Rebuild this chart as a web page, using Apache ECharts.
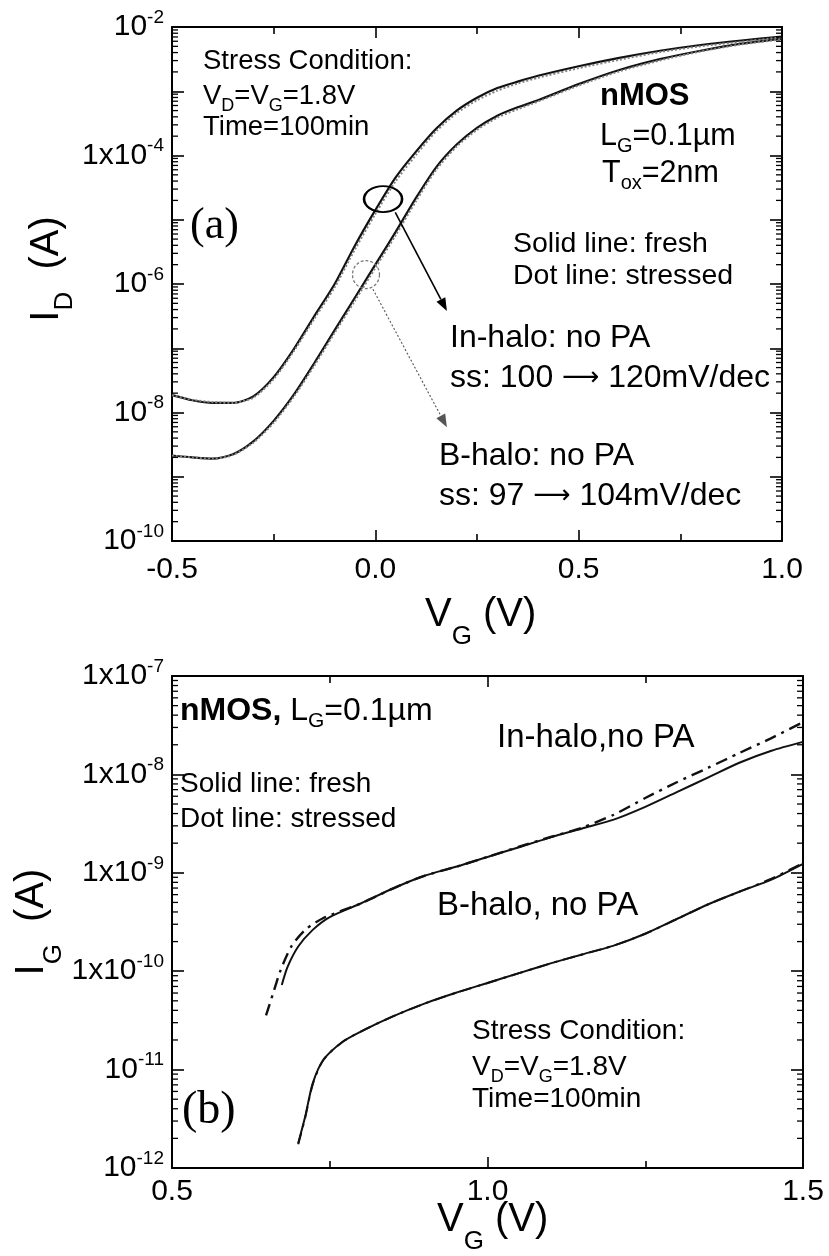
<!DOCTYPE html>
<html><head><meta charset="utf-8">
<script src="https://cdn.jsdelivr.net/npm/echarts@6/dist/echarts.min.js"></script>
<style>html,body{margin:0;padding:0;background:#fff}#c{width:829px;height:1256px}</style>
</head><body><div id="c"></div>
<script>
// ---------- (a) I_D – V_G ----------
const topVG = [-0.5,-0.45,-0.4,-0.35,-0.3,-0.25,-0.2,-0.15,-0.1,-0.05,0.0,0.05,0.1,0.15,0.2,0.25,0.3,0.35,0.4,0.5,0.6,0.7,0.8,0.9,1.0];
const inHaloFresh = [1.86e-8,1.55e-8,1.41e-8,1.41e-8,1.78e-8,3.55e-8,9.8e-8,3.16e-7,1.0e-6,3.98e-6,1.41e-5,4.57e-5,1.15e-4,2.63e-4,5.0e-4,7.94e-4,1.12e-3,1.41e-3,1.74e-3,2.45e-3,3.31e-3,4.27e-3,5.25e-3,6.17e-3,7.08e-3];
const inHaloStressed = [1.86e-8,1.58e-8,1.45e-8,1.41e-8,1.70e-8,3.31e-8,9.1e-8,2.88e-7,8.9e-7,3.47e-6,1.23e-5,3.98e-5,1.02e-4,2.40e-4,4.57e-4,7.24e-4,1.02e-3,1.32e-3,1.62e-3,2.29e-3,3.09e-3,4.07e-3,5.01e-3,5.89e-3,6.92e-3];
const bHaloFresh = [2.14e-9,2.0e-9,1.91e-9,2.24e-9,3.55e-9,7.41e-9,1.91e-8,5.89e-8,1.91e-7,6.17e-7,2.0e-6,6.46e-6,2.19e-5,6.61e-5,1.48e-4,2.69e-4,4.17e-4,5.62e-4,7.24e-4,1.29e-3,2.14e-3,3.16e-3,4.27e-3,5.50e-3,6.61e-3];
const bHaloStressed = [2.14e-9,2.0e-9,1.91e-9,2.19e-9,3.39e-9,6.92e-9,1.78e-8,5.37e-8,1.74e-7,5.5e-7,1.78e-6,5.75e-6,1.95e-5,6.03e-5,1.38e-4,2.51e-4,3.89e-4,5.25e-4,6.92e-4,1.23e-3,2.04e-3,3.02e-3,4.17e-3,5.37e-3,6.46e-3];
const topX = {min:-0.5, max:1.0, interval:0.5};
const topY = {min:1e-10, max:1e-2};
const topYLabelExps = [-2,-4,-6,-8,-10];
const topYLabelBase = ['10','1x10','10','10','10'];

// ---------- (b) I_G – V_G ----------
const gInFreshVG = [0.674,0.683,0.70,0.723,0.75,0.80,0.85,0.90,0.95,1.0,1.05,1.10,1.15,1.20,1.25,1.30,1.35,1.40,1.45,1.50];
const gInFresh = [7.24e-11,1.10e-10,1.78e-10,2.63e-10,3.55e-10,4.90e-10,6.92e-10,9.33e-10,1.15e-9,1.45e-9,1.82e-9,2.29e-9,2.82e-9,3.47e-9,4.68e-9,6.61e-9,9.33e-9,1.32e-8,1.74e-8,2.14e-8];
const gInStressedVG = [0.649,0.66,0.672,0.689,0.711,0.74,0.80,0.85,0.90,0.95,1.0,1.05,1.10,1.15,1.20,1.25,1.30,1.35,1.40,1.45,1.50];
const gInStressed = [3.55e-11,5.89e-11,1.02e-10,1.78e-10,2.63e-10,3.47e-10,4.90e-10,6.92e-10,9.33e-10,1.15e-9,1.45e-9,1.84e-9,2.31e-9,2.88e-9,3.89e-9,5.75e-9,8.32e-9,1.17e-8,1.66e-8,2.34e-8,3.39e-8];
const gBVG = [0.70,0.711,0.723,0.74,0.77,0.80,0.85,0.90,0.95,1.0,1.05,1.10,1.15,1.20,1.25,1.30,1.35,1.40,1.45,1.50];
const gBFresh = [1.78e-12,3.31e-12,7.24e-12,1.26e-11,1.91e-11,2.45e-11,3.47e-11,4.68e-11,6.03e-11,7.59e-11,9.55e-11,1.20e-10,1.48e-10,1.82e-10,2.40e-10,3.39e-10,4.79e-10,6.46e-10,8.51e-10,1.23e-9];
const gBStressed = [1.74e-12,3.24e-12,7.08e-12,1.26e-11,1.91e-11,2.45e-11,3.47e-11,4.68e-11,6.03e-11,7.59e-11,9.55e-11,1.20e-10,1.48e-10,1.82e-10,2.40e-10,3.39e-10,4.79e-10,6.46e-10,8.71e-10,1.26e-9];
const botX = {min:0.5, max:1.5, interval:0.5};
const botY = {min:1e-12, max:1e-7};
const botYLabelExps = [-7,-8,-9,-10,-11,-12];
const botYLabelBase = ['1x10','1x10','1x10','1x10','10','10'];

// annotation anchors (data space) for panel (a)
const ellipseSolid = [0.019, 2.1e-5];
const arrowSolid = [[0.049, 1.3e-5],[0.176, 3.8e-7]];
const ellipseDot = [-0.023, 1.4e-6];
const arrowDot = [[-0.006, 8.3e-7],[0.176, 5.9e-9]];

const FONT = '"Liberation Sans", Arial, Helvetica, sans-serif';
const SERIF = '"Liberation Serif", "Times New Roman", serif';

function pairs(xs, ys){ return xs.map((x,i)=>[x, ys[i]]); }
function yFmt(exps, bases){
  return function(v){
    const e = Math.round(Math.log10(v));
    const i = exps.indexOf(e);
    if (i < 0) return '';
    return '{n|' + bases[i] + '}{s|' + e + '}';
  };
}
function minorLogTicks(minE, maxE){
  const a = [];
  for (let e = minE; e < maxE; e++) for (let m = 2; m <= 9; m++) a.push(m * Math.pow(10, e));
  return a;
}
const axLine = {show:true, onZero:false, lineStyle:{color:'#000', width:2}};
const yRich = {
  n:{fontSize:30, lineHeight:38, fontFamily:FONT, color:'#000'},
  s:{fontSize:19, lineHeight:19, verticalAlign:'top', fontFamily:FONT, color:'#000'}
};
function xAxisDef(grid, pos, ext, showLabel, margin){
  return {type:'value', gridIndex:grid, position:pos, min:ext.min, max:ext.max, interval:ext.interval,
    axisLine:axLine, splitLine:{show:false},
    axisTick:{show:true, inside:true, length:11, lineStyle:{color:'#000', width:1.6}},
    minorTick:{show:true, splitNumber:2, length:7, lineStyle:{color:'#000', width:1.6}},
    axisLabel:{show:showLabel, margin:margin, fontSize:30, fontFamily:FONT, color:'#000', formatter:v=>v.toFixed(1)}};
}
function yAxisDef(grid, pos, ext, split, showLabel, fmt){
  return {type:'log', logBase:10, gridIndex:grid, position:pos, min:ext.min, max:ext.max, splitNumber:split,
    axisLine:axLine, splitLine:{show:false}, minorTick:{show:false},
    axisTick:{show:true, inside:true, length:12, lineStyle:{color:'#000', width:1.6}},
    axisLabel:{show:showLabel, margin:8, formatter:fmt, rich:yRich}};
}
function tickSeries(xi, yi, xext, values){
  return {type:'custom', xAxisIndex:xi, yAxisIndex:yi, silent:true, z:6,
    data: values.map(v=>[xext.min, v]),
    renderItem:(params, api)=>{
      const p = api.coord([api.value(0), api.value(1)]);
      const q = api.coord([xext.max, api.value(1)]);
      const st = {stroke:'#000', lineWidth:1.3};
      return {type:'group', children:[
        {type:'line', shape:{x1:p[0], y1:p[1], x2:p[0]+6, y2:p[1]}, style:st},
        {type:'line', shape:{x1:q[0]-6, y1:q[1], x2:q[0], y2:q[1]}, style:st}
      ]};
    }};
}
function line(xi, yi, data, color, type, width, z){
  return {type:'line', xAxisIndex:xi, yAxisIndex:yi, data:data, showSymbol:false, smooth:0.25, z:z,
    lineStyle:{color:color, type:type, width:width}};
}

// text helpers
function richFor(size){
  const lh = Math.round(size + 9);
  const ss = Math.round(size * 0.66);
  return {
    n:{fontSize:size, lineHeight:lh, fontFamily:FONT, fill:'#000', color:'#000'},
    b:{fontSize:size, lineHeight:lh, fontFamily:FONT, fontWeight:'bold', fill:'#000', color:'#000'},
    s:{fontSize:ss, lineHeight:ss, verticalAlign:'bottom', fontFamily:FONT, fill:'#000', color:'#000'},
    a:{fontSize:Math.round(size*0.8), lineHeight:lh, fontFamily:'"DejaVu Sans", sans-serif', fill:'#000', color:'#000'}
  };
}
function R(x, base, text, size){
  size = size || 27.5;
  return {type:'text', x:x, y:base - size*0.37, z:50, style:{text:text, rich:richFor(size), fill:'#000',
    font:size+'px '+FONT, align:'left', verticalAlign:'middle', textAlign:'left', textVerticalAlign:'middle'}};
}
function T(x, base, text, size){ return R(x, base, '{n|' + text + '}', size); }
function title(x, y, text, rot, align, L){
  return {type:'text', x:x, y:y, rotation:rot, z:50, style:{text:text, fill:'#000', font:'40px '+FONT,
    align:align, verticalAlign:'middle', textAlign:align, textVerticalAlign:'middle',
    rich:{t:{fontSize:40, lineHeight:L, fontFamily:FONT, fill:'#000'},
          s:{fontSize:26, lineHeight:26, verticalAlign:'bottom', fontFamily:FONT, fill:'#000'}}}};
}

const texts = [
  // panel (a)
  T(203, 72, 'Stress Condition:', 27.5),
  R(203, 107, '{n|V}{s|D}{n|=V}{s|G}{n|=1.8V}', 27.5),
  T(203, 138, 'Time=100min', 27.5),
  {type:'text', x:190, y:226, z:50, style:{text:'(a)', fill:'#000', font:'44px '+SERIF, align:'left', verticalAlign:'middle', textAlign:'left', textVerticalAlign:'middle'}},
  R(600, 108, '{b|nMOS}', 31),
  R(600, 148, '{n|L}{s|G}{n|=0.1\u00b5m}', 30.5),
  R(602, 185, '{n|T}{s|ox}{n|=2nm}', 30.5),
  T(513, 255, 'Solid line: fresh', 28.5),
  T(513, 287, 'Dot line: stressed', 28.5),
  T(450, 350, 'In-halo: no PA', 32),
  R(450, 390, '{n|ss: 100 }{a|\u27f6}{n| 120mV/dec}', 32),
  T(439, 468, 'B-halo: no PA', 32),
  R(439, 508, '{n|ss: 97 }{a|\u27f6}{n| 104mV/dec}', 32),
  // panel (b)
  R(180, 723, '{b|nMOS,}{n| L}{s|G}{n|=0.1\u00b5m}', 32),
  T(180, 795, 'Solid line: fresh', 28),
  T(180, 830, 'Dot line: stressed', 28),
  T(497, 750, 'In-halo,no PA', 33),
  T(437, 918, 'B-halo, no PA', 33),
  T(472, 1042, 'Stress Condition:', 28),
  R(472, 1078, '{n|V}{s|D}{n|=V}{s|G}{n|=1.8V}', 28),
  T(472, 1110, 'Time=100min', 28),
  {type:'text', x:182, y:1111, z:50, style:{text:'(b)', fill:'#000', font:'46px '+SERIF, align:'left', verticalAlign:'middle', textAlign:'left', textVerticalAlign:'middle'}},
  // axis titles
  title(425, 615, '{t|V}{s|G}{t| (V)}', 0, 'left', 70),
  title(437, 1220, '{t|V}{s|G}{t| (V)}', 0, 'left', 70),
  title(47, 269, '{t|I}{s|D}{t|  (A)}', Math.PI/2, 'center', 62),
  title(32, 922, '{t|I}{s|G}{t|  (A)}', Math.PI/2, 'center', 70)
];

const chart = echarts.init(document.getElementById('c'), null, {renderer:'canvas'});
chart.setOption({
  animation:false,
  backgroundColor:'#fff',
  grid:[
    {left:172, top:27, width:610, height:514, containLabel:false, outerBoundsMode:'none'},
    {left:172, top:676, width:631, height:492, containLabel:false, outerBoundsMode:'none'}
  ],
  xAxis:[
    xAxisDef(0, 'bottom', topX, true, 14),
    xAxisDef(0, 'top', topX, false, 8),
    xAxisDef(1, 'bottom', botX, true, 9),
    xAxisDef(1, 'top', botX, false, 8)
  ],
  yAxis:[
    yAxisDef(0, 'left', topY, 8, true, yFmt(topYLabelExps, topYLabelBase)),
    yAxisDef(0, 'right', topY, 8, false, null),
    yAxisDef(1, 'left', botY, 5, true, yFmt(botYLabelExps, botYLabelBase)),
    yAxisDef(1, 'right', botY, 5, false, null)
  ],
  series:[
    line(0, 0, pairs(topVG, inHaloFresh), '#111', 'solid', 2.2, 3),
    line(0, 0, pairs(topVG, inHaloStressed), '#808080', 'dotted', 2, 4),
    line(0, 0, pairs(topVG, bHaloFresh), '#111', 'solid', 2.2, 3),
    line(0, 0, pairs(topVG, bHaloStressed), '#808080', 'dotted', 2, 4),
    line(2, 2, pairs(gInFreshVG, gInFresh), '#111', 'solid', 2, 3),
    line(2, 2, pairs(gInStressedVG, gInStressed), '#111', [12,6,3,6], 2.4, 4),
    line(2, 2, pairs(gBVG, gBFresh), '#111', 'solid', 2, 3),
    line(2, 2, pairs(gBVG, gBStressed), '#111', [12,6,3,6], 2, 4),
    tickSeries(0, 0, topX, minorLogTicks(-10, -2)),
    tickSeries(2, 2, botX, minorLogTicks(-12, -7))
  ],
  graphic: texts
});

// ellipses and arrows anchored to data coordinates
function px(pt){ return chart.convertToPixel({xAxisIndex:0, yAxisIndex:0}, pt); }
function arrow(a, b, color, width, dash){
  const p = px(a), q = px(b);
  const dx = q[0]-p[0], dy = q[1]-p[1], L = Math.hypot(dx, dy), ux = dx/L, uy = dy/L;
  const hl = 13, hw = 5;
  const bx = q[0]-ux*hl, by = q[1]-uy*hl;
  return [
    {type:'line', z:40, shape:{x1:p[0], y1:p[1], x2:bx, y2:by}, style:{stroke:color, lineWidth:width, lineDash:dash}},
    {type:'polygon', z:40, shape:{points:[[q[0],q[1]],[bx-uy*hw, by+ux*hw],[bx+uy*hw, by-ux*hw]]}, style:{fill:color}}
  ];
}
function ell(c, rx, ry, color, width, dash){
  const p = px(c);
  return {type:'circle', z:40, x:p[0], y:p[1], scaleX:rx/ry, scaleY:1, shape:{cx:0, cy:0, r:ry},
    style:{fill:'none', stroke:color, lineWidth:width, lineDash:dash, strokeNoScale:true}};
}
const extra = [].concat(
  [ell(ellipseSolid, 19, 13, '#000', 1.8, null)],
  arrow(arrowSolid[0], arrowSolid[1], '#000', 1.6, null),
  [ell(ellipseDot, 13.5, 14, '#777', 1.3, [3,2])],
  arrow(arrowDot[0], arrowDot[1], '#555', 1.1, [2,2])
);
chart.setOption({graphic: texts.concat(extra)});
</script>
</body></html>
